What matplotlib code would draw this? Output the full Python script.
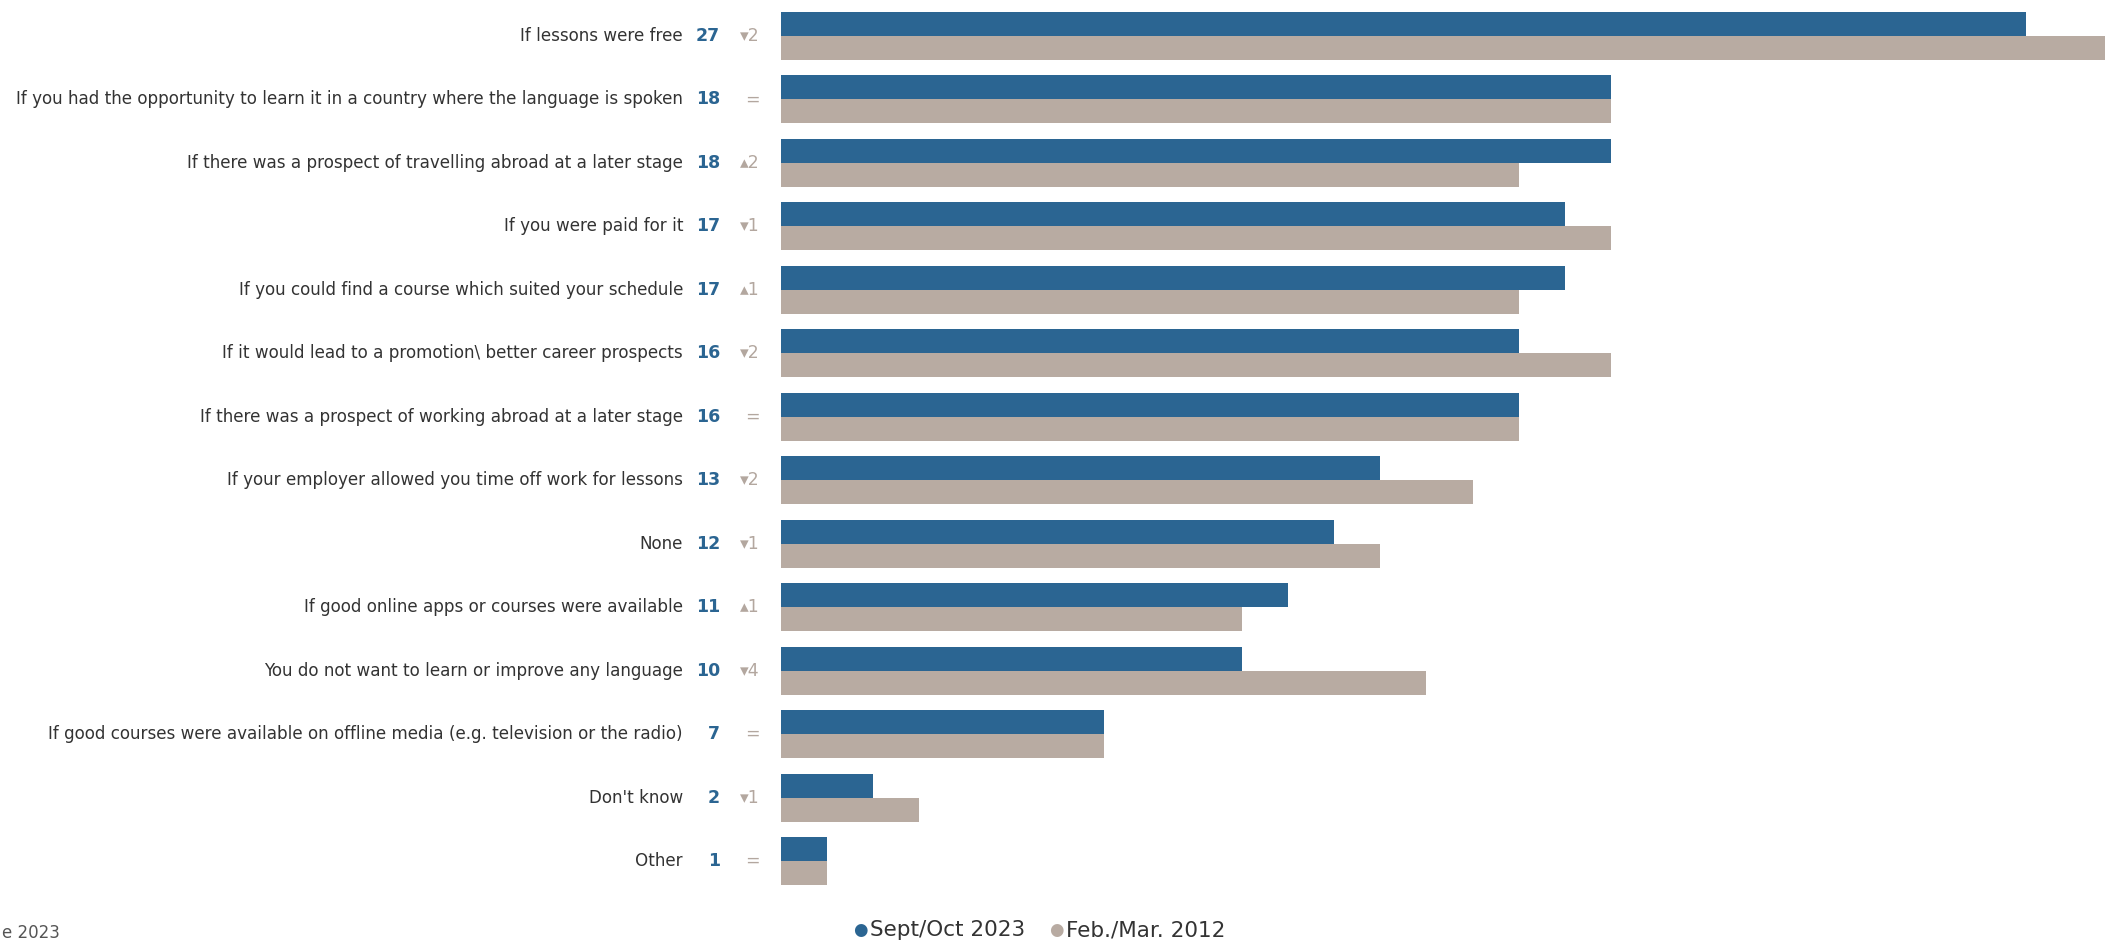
import matplotlib
matplotlib.use("Agg")
import matplotlib.pyplot as plt
import numpy as np

categories = [
    "If lessons were free",
    "If you had the opportunity to learn it in a country where the language is spoken",
    "If there was a prospect of travelling abroad at a later stage",
    "If you were paid for it",
    "If you could find a course which suited your schedule",
    "If it would lead to a promotion\\ better career prospects",
    "If there was a prospect of working abroad at a later stage",
    "If your employer allowed you time off work for lessons",
    "None",
    "If good online apps or courses were available",
    "You do not want to learn or improve any language",
    "If good courses were available on offline media (e.g. television or the radio)",
    "Don't know",
    "Other",
]
values_2023 = [27, 18, 18, 17, 17, 16, 16, 13, 12, 11, 10, 7, 2, 1]
values_2012 = [29, 18, 16, 18, 16, 18, 16, 15, 13, 10, 14, 7, 3, 1]
changes = ["\u25BE2", "=", "\u25B42", "\u25BE1", "\u25B41", "\u25BE2", "=", "\u25BE2",
           "\u25BE1", "\u25B41", "\u25BE4", "=", "\u25BE1", "="]
series_names = ["Sept/Oct 2023", "Feb./Mar. 2012"]
footer_text = "e 2023"

BLUE = "#2b6592"
TAN = "#b8aba2"
CHG = "#b3a79f"
TXT = "#333333"

W, H = 2105, 944
fig = plt.figure(figsize=(W / 100, H / 100), dpi=100)
fig.patch.set_facecolor("white")

row_px = 63.46
top_px = 36 - 0.5 * row_px
bot_px = 861 + 0.5 * row_px
left_px = 781
ax = fig.add_axes([left_px / W, 1 - bot_px / H, 1 - left_px / W, (bot_px - top_px) / H])
n = len(categories)
y = np.arange(n)
h = 24 / row_px
ax.barh(y - h / 2, values_2023, height=h, color=BLUE, linewidth=0)
ax.barh(y + h / 2, values_2012, height=h, color=TAN, linewidth=0)
ax.set_ylim(n - 0.5, -0.5)
ax.set_xlim(0, (W - left_px) / 46.1)
ax.axis("off")

for i in range(n):
    yc = 1 - (36 + i * row_px) / H
    fig.text(683 / W, yc, categories[i], ha="right", va="center", fontsize=12.1,
             color=TXT, family="DejaVu Sans")
    fig.text(720 / W, yc, str(values_2023[i]), ha="right", va="center", fontsize=12.5,
             color=BLUE, fontweight="bold", family="DejaVu Sans")
    fig.text(760 / W, yc, changes[i], ha="right", va="center", fontsize=12.5,
             color=CHG, family="DejaVu Sans")

# legend
ly = 1 - 930 / H
fig.text(860 / W, ly, "\u25CF", color=BLUE, fontsize=12, ha="center", va="center")
fig.text(870 / W, ly, series_names[0], color=TXT, fontsize=15.5, ha="left", va="center")
fig.text(1056 / W, ly, "\u25CF", color=TAN, fontsize=12, ha="center", va="center")
fig.text(1066 / W, ly, series_names[1], color=TXT, fontsize=15.5, ha="left", va="center")

fig.text(2 / W, 2 / H, footer_text, color="#555555", fontsize=12, ha="left", va="bottom")

fig.savefig("out.png", dpi=100, facecolor="white")
